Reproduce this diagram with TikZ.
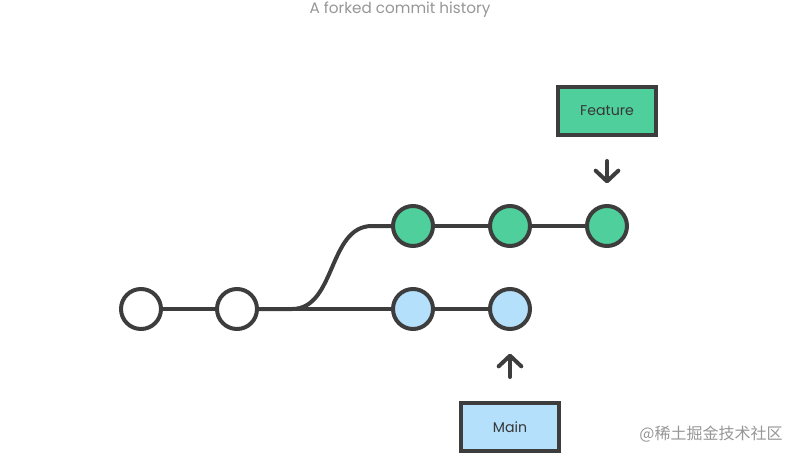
\documentclass[tikz,border=0pt]{standalone}
\usepackage{fontspec}
\setmainfont{Poppins}
\newfontfamily\cjk{Noto Sans CJK SC}
\usetikzlibrary{arrows.meta}

\definecolor{edgegray}{RGB}{61,61,61}
\definecolor{featgreen}{RGB}{79,207,155}
\definecolor{mainblue}{RGB}{180,224,251}
\definecolor{captiongray}{RGB}{150,150,150}

\tikzset{every picture/.style={line width=0.75pt}}
\tikzset{
  commit/.style={circle, draw=edgegray, line width=3pt, minimum size=30pt, inner sep=0pt},
  branchbox/.style={draw=edgegray, line width=3pt, minimum width=73pt, minimum height=36pt, font=\fontsize{10.6}{12}\selectfont, text=edgegray!90!black},
  link/.style={draw=edgegray, line width=3pt},
  pointer/.style={draw=edgegray, line width=3pt, line cap=round, -{Straight Barb[length=8pt, width=17pt, line cap=round, line join=round]}}
}

\begin{document}
\begin{tikzpicture}[x=0.75pt,y=0.75pt,yscale=-1,xscale=1]
	\useasboundingbox (0,0) rectangle (800,458);

	% Title
	\node[text=captiongray, font=\fontsize{11.4}{13}\selectfont] (title) at (400,10) {A forked commit history};

	% Commits
	\node[commit, fill=white] (c1) at (141,309) {};
	\node[commit, fill=white] (c2) at (237,309) {};
	\node[commit, fill=mainblue] (m1) at (413,309) {};
	\node[commit, fill=mainblue] (m2) at (510,309) {};
	\node[commit, fill=featgreen] (f1) at (413,226) {};
	\node[commit, fill=featgreen] (f2) at (510,226) {};
	\node[commit, fill=featgreen] (f3) at (607,226) {};

	% Branch labels
	\node[branchbox, fill=featgreen] (feature) at (607,111) {Feature};
	\node[branchbox, fill=mainblue] (main) at (510,427) {Main};

	% History lines
	\draw[link] (c1) -- (c2);
	\draw[link] (c2) -- (m1);
	\draw[link] (m1) -- (m2);
	\draw[link] (f1) -- (f2);
	\draw[link] (f2) -- (f3);
	\coordinate (forkA) at (292,309);
	\coordinate (forkB) at (372,226);
	\draw[link] (c2.east) -- (forkA) .. controls (336,309) and (328,226) .. (forkB) -- (f1.west);

	% Pointers
	\draw[pointer, shorten <=18pt, shorten >=15.5pt] (feature.south) -- (f3.north);
	\draw[pointer, shorten <=18pt, shorten >=17pt] (main.north) -- (m2.south);

	% Watermark
	\node[text=captiongray, font=\cjk\fontsize{12}{14}\selectfont] (mark) at (711,434) {@稀土掘金技术社区};

\end{tikzpicture}
\end{document}
